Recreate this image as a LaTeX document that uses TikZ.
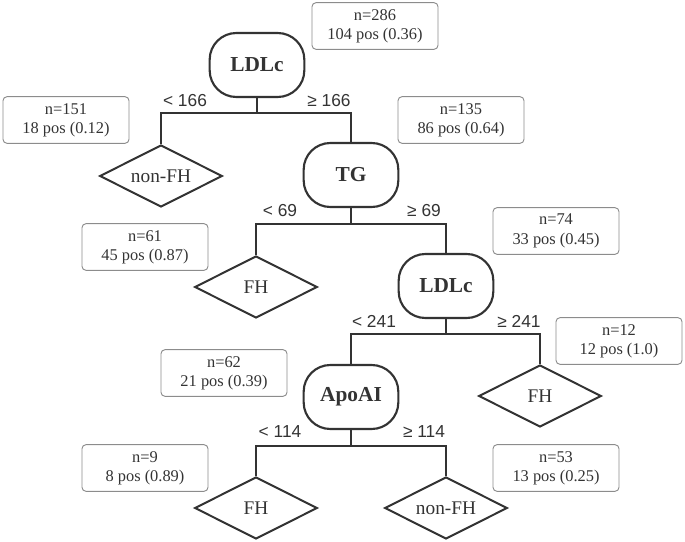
\documentclass[tikz,border=0pt]{standalone}
\usepackage{fontspec}
\setmainfont{Liberation Serif}
\newfontfamily\cutfont{Liberation Sans}
\usetikzlibrary{shapes.geometric}
\definecolor{ink}{HTML}{333333}
\definecolor{boxline}{HTML}{8C8C8C}
\begin{document}
\begin{tikzpicture}[x=0.75pt, y=-0.75pt,
    test/.style={draw=ink, line width=1.6pt, rounded corners=20pt, minimum width=71pt,
        minimum height=48pt, font=\fontsize{16}{18}\selectfont\bfseries, text=ink},
    leaf/.style={draw=ink, line width=1.5pt, diamond, aspect=2, minimum width=92pt,
        minimum height=46.5pt, inner sep=1pt, font=\fontsize{14.5}{16}\selectfont, text=ink},
    count/.style={draw=boxline, line width=0.7pt, rounded corners=3pt, minimum width=94.5pt,
        minimum height=35pt, align=center, font=\fontsize{12.3}{14.5}\selectfont, text=ink},
    cut/.style={font=\cutfont\fontsize{13}{15}\selectfont, text=ink, inner sep=0pt},
    branch/.style={draw=ink, line width=1pt}]
    \useasboundingbox (0,0) rectangle (685,542);
        % tests
        \node[test] (ldlA) at (257,65) {LDLc};
        \node[test] (tg) at (351,175) {TG};
        \node[test] (ldlB) at (446,286) {LDLc};
        \node[test] (apo) at (351,397) {ApoAI};
        % leaves
        \node[leaf] (nonfhA) at (161,176) {non-FH};
        \node[leaf] (fhA) at (256,287) {FH};
        \node[leaf] (fhB) at (540,396) {FH};
        \node[leaf] (fhC) at (256,508) {FH};
        \node[leaf] (nonfhB) at (446,508) {non-FH};
        % counts
        \node[count] (n286) at (375,26) {n=286\\104 pos (0.36)};
        \node[count] (n151) at (66,120) {n=151\\18 pos (0.12)};
        \node[count] (n135) at (461,120) {n=135\\86 pos (0.64)};
        \node[count] (n61) at (145,247) {n=61\\45 pos (0.87)};
        \node[count] (n74) at (556,231) {n=74\\33 pos (0.45)};
        \node[count] (n62) at (224,373) {n=62\\21 pos (0.39)};
        \node[count] (n12) at (619,341) {n=12\\12 pos (1.0)};
        \node[count] (n9) at (145,468) {n=9\\8 pos (0.89)};
        \node[count] (n53) at (556,468) {n=53\\13 pos (0.25)};
        % branches
        \draw[branch] (ldlA.south) -- ++(0,15) -| (nonfhA.north);
        \draw[branch] (ldlA.south) -- ++(0,15) -| (tg.north);
        \draw[branch] (tg.south) -- ++(0,16) -| (fhA.north);
        \draw[branch] (tg.south) -- ++(0,16) -| (ldlB.north);
        \draw[branch] (ldlB.south) -- ++(0,15) -| (apo.north);
        \draw[branch] (ldlB.south) -- ++(0,15) -| (fhB.north);
        \draw[branch] (apo.south) -- ++(0,16) -| (fhC.north);
        \draw[branch] (apo.south) -- ++(0,16) -| (nonfhB.north);
        % cut points
        \node[cut] (lt166) at (185,101) {< 166};
        \node[cut] (ge166) at (329,101) {≥ 166};
        \node[cut] (lt69) at (280,211) {< 69};
        \node[cut] (ge69) at (424,211) {≥ 69};
        \node[cut] (lt241) at (374,321) {< 241};
        \node[cut] (ge241) at (519,321) {≥ 241};
        \node[cut] (lt114) at (280,432) {< 114};
        \node[cut] (ge114) at (424,432) {≥ 114};
    \end{tikzpicture}
\end{document}
